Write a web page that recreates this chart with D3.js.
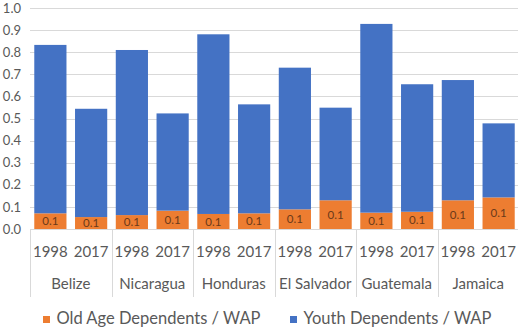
<!DOCTYPE html>
<html>
<head>
<meta charset="utf-8">
<script src="https://cdn.jsdelivr.net/npm/d3@7"></script>
<style>
  html, body { margin: 0; padding: 0; background: #fff; }
  svg { display: block; font-family: Lato, "Noto Sans", sans-serif; }
</style>
</head>
<body>
<svg id="chart" width="518" height="329"></svg>
<script>
// Dependency ratios relative to working-age population (WAP)
const countries = ["Belize", "Nicaragua", "Honduras", "El Salvador", "Guatemala", "Jamaica"];
const years = ["1998", "2017"];
// one entry per country/year pair, in the order of countries × years
const oldAge = [0.071, 0.054, 0.063, 0.083, 0.068, 0.071, 0.089, 0.130, 0.074, 0.078, 0.130, 0.143];
const youth  = [0.762, 0.490, 0.747, 0.440, 0.813, 0.493, 0.641, 0.419, 0.854, 0.577, 0.544, 0.335];
const yTicks = [0, 0.1, 0.2, 0.3, 0.4, 0.5, 0.6, 0.7, 0.8, 0.9, 1.0];
const seriesNames = ["Old Age Dependents / WAP", "Youth Dependents / WAP"];
const colors = ["#ED7D31", "#4472C4"];

const rows = [];
countries.forEach((c, i) => years.forEach((yr, j) => {
  const k = i * years.length + j;
  rows.push({ key: c + "|" + yr, country: c, year: yr, old: oldAge[k], youth: youth[k] });
}));

const svg = d3.select("#chart");
const plotLeft = 30, plotRight = 519, plotTop = 8, plotBottom = 229;

const x = d3.scaleBand().domain(rows.map(d => d.key)).range([plotLeft, plotRight])
  .paddingInner(0.21).paddingOuter(0.105);
const y = d3.scaleLinear().domain([0, 1]).range([plotBottom, plotTop]);

const textColor = "#595959";
const gridColor = "#d9d9d9";

// horizontal gridlines
svg.append("g").selectAll("line").data(yTicks).join("line")
  .attr("x1", plotLeft).attr("x2", plotRight)
  .attr("y1", d => Math.round(y(d)) + 0.5).attr("y2", d => Math.round(y(d)) + 0.5)
  .attr("stroke", gridColor).attr("stroke-width", 1);

// y axis labels
const yAxis = d3.axisLeft(y).tickValues(yTicks).tickFormat(d3.format(".1f")).tickSize(0).tickPadding(9);
const yg = svg.append("g").attr("transform", `translate(${plotLeft},0)`).call(yAxis);
yg.select(".domain").remove();
yg.selectAll("text").attr("fill", textColor).style("font-size", "13px").style("font-family", "Lato, sans-serif");

// stacked bars
const stack = d3.stack().keys(["old", "youth"]);
const layers = stack(rows);
svg.append("g").selectAll("g").data(layers).join("g")
  .attr("fill", (d, i) => colors[i])
  .selectAll("rect").data(d => d).join("rect")
  .attr("x", d => x(d.data.key))
  .attr("width", x.bandwidth())
  .attr("y", d => y(d[1]))
  .attr("height", d => y(d[0]) - y(d[1]));

// value labels inside the old-age segments
svg.append("g").selectAll("text").data(rows).join("text")
  .attr("x", d => x(d.key) + x.bandwidth() / 2)
  .attr("y", d => (y(0) + y(d.old)) / 2)
  .attr("dy", "0.35em")
  .attr("text-anchor", "middle")
  .attr("fill", "#6b3a1a")
  .style("font-size", "11.5px")
  .text(d => d3.format(".1f")(d.old));

// category axis: separators between country groups
const step = x.step();
const groupEdge = i => plotLeft + i * years.length * step;
svg.append("g").selectAll("line").data(d3.range(countries.length + 1)).join("line")
  .attr("x1", i => Math.round(groupEdge(i)) + 0.5).attr("x2", i => Math.round(groupEdge(i)) + 0.5)
  .attr("y1", plotBottom).attr("y2", 297)
  .attr("stroke", gridColor);

// year labels
svg.append("g").selectAll("text").data(rows).join("text")
  .attr("x", d => x(d.key) + x.bandwidth() / 2)
  .attr("y", 257)
  .attr("text-anchor", "middle")
  .attr("fill", textColor)
  .style("font-size", "15px")
  .text(d => d.year);

// country labels
svg.append("g").selectAll("text").data(countries).join("text")
  .attr("x", (c, i) => groupEdge(i) + years.length * step / 2)
  .attr("y", 289)
  .attr("text-anchor", "middle")
  .attr("fill", textColor)
  .style("font-size", "15px")
  .text(c => c);

// legend
const legendX = [43, 290];
const lg = svg.append("g").selectAll("g").data(seriesNames).join("g")
  .attr("transform", (d, i) => `translate(${legendX[i]},316)`);
lg.append("rect").attr("width", 7).attr("height", 7).attr("fill", (d, i) => colors[i]);
lg.append("text").attr("x", 13.5).attr("y", 8)
  .attr("fill", textColor).style("font-size", "16.5px").text(d => d);
</script>
</body>
</html>
